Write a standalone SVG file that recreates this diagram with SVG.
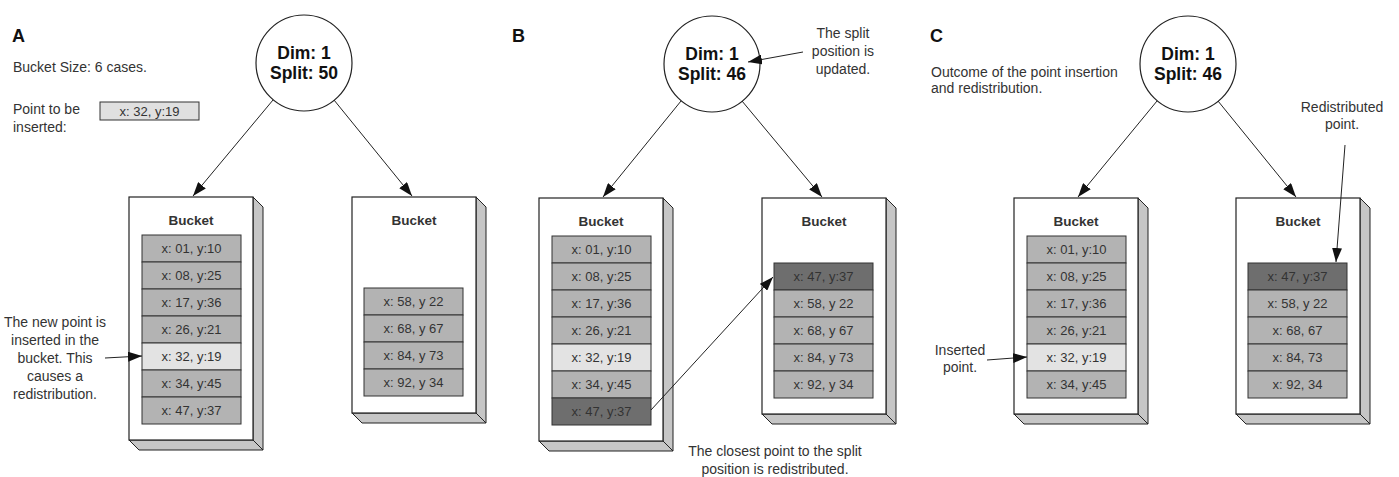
<svg xmlns="http://www.w3.org/2000/svg" width="1399" height="477" viewBox="0 0 1399 477">
<defs>
<style>
.lbl{font-family:"Liberation Sans",Arial,sans-serif;font-size:14px;fill:#333}
.pan{font-family:"Liberation Sans",Arial,sans-serif;font-size:18px;font-weight:bold;fill:#111}
.ctx{font-family:"Liberation Sans",Arial,sans-serif;font-size:17.5px;font-weight:bold;fill:#111;text-anchor:middle}
.bt{font-family:"Liberation Sans",Arial,sans-serif;font-size:13.5px;font-weight:bold;fill:#333;text-anchor:middle}
.rt{font-family:"Liberation Sans",Arial,sans-serif;font-size:13px;fill:#333;text-anchor:middle}
.mid{text-anchor:middle}
.node{fill:#fff;stroke:#222;stroke-width:1.2}
.side{fill:#c6c6c6;stroke:#222;stroke-width:1}
.outer{fill:#fff;stroke:#222;stroke-width:1.2}
.row{fill:#b3b3b3;stroke:#333;stroke-width:1}
.light{fill:#e3e3e3;stroke:#333;stroke-width:1}
.dark{fill:#6e6e6e;stroke:#333;stroke-width:1}
.con{stroke:#222;stroke-width:1;fill:none;marker-end:url(#ah)}
</style>
<marker id="ah" markerUnits="userSpaceOnUse" markerWidth="15" markerHeight="10" refX="14" refY="5" orient="auto">
<path d="M0,0 L14,5 L0,10 Z" fill="#111"/>
</marker>
</defs>
<rect width="1399" height="477" fill="#fff"/>

<!-- Panel A -->
<g id="panelA-labels">
<text class="pan" x="12" y="42">A</text>
<text class="lbl" x="13" y="72">Bucket Size: 6 cases.</text>
<text class="lbl" x="13" y="114">Point to be</text>
<text class="lbl" x="13" y="132">inserted:</text>
<text class="lbl mid" x="55" y="327">The new point is</text>
<text class="lbl mid" x="55" y="345">inserted in the</text>
<text class="lbl mid" x="55" y="363">bucket. This</text>
<text class="lbl mid" x="55" y="381">causes a</text>
<text class="lbl mid" x="55" y="399">redistribution.</text>
</g>
<g id="pointA">
<rect x="100" y="102" width="99" height="18" fill="#e0e0e0" stroke="#333" stroke-width="1"/>
<text class="rt" x="149.5" y="115.5">x: 32, y:19</text>
</g>
<g id="nodeA">
<circle class="node" cx="304" cy="63" r="48"/>
<text class="ctx" x="304" y="59">Dim: 1</text>
<text class="ctx" x="304" y="79">Split: 50</text>
</g>
<g id="bucketA1" transform="translate(129,197)">
<polygon class="side" points="124,0 134,10 134,253 124,243"/>
<polygon class="side" points="0,243 10,253 134,253 124,243"/>
<rect class="outer" x="0" y="0" width="124" height="243"/>
<text class="bt" x="62" y="28">Bucket</text>
<rect class="row" x="13" y="38" width="99" height="27"/><text class="rt" x="62.5" y="56">x: 01, y:10</text>
<rect class="row" x="13" y="65" width="99" height="27"/><text class="rt" x="62.5" y="83">x: 08, y:25</text>
<rect class="row" x="13" y="92" width="99" height="27"/><text class="rt" x="62.5" y="110">x: 17, y:36</text>
<rect class="row" x="13" y="119" width="99" height="27"/><text class="rt" x="62.5" y="137">x: 26, y:21</text>
<rect class="light" x="13" y="146" width="99" height="27"/><text class="rt" x="62.5" y="164">x: 32, y:19</text>
<rect class="row" x="13" y="173" width="99" height="27"/><text class="rt" x="62.5" y="191">x: 34, y:45</text>
<rect class="row" x="13" y="200" width="99" height="27"/><text class="rt" x="62.5" y="218">x: 47, y:37</text>
</g>
<g id="bucketA2" transform="translate(352,197)">
<polygon class="side" points="124,0 134,10 134,226 124,216"/>
<polygon class="side" points="0,216 10,226 134,226 124,216"/>
<rect class="outer" x="0" y="0" width="124" height="216"/>
<text class="bt" x="62" y="28">Bucket</text>
<rect class="row" x="12" y="91" width="99" height="27"/><text class="rt" x="61.5" y="109">x: 58, y 22</text>
<rect class="row" x="12" y="118" width="99" height="27"/><text class="rt" x="61.5" y="136">x: 68, y 67</text>
<rect class="row" x="12" y="145" width="99" height="27"/><text class="rt" x="61.5" y="163">x: 84, y 73</text>
<rect class="row" x="12" y="172" width="99" height="27"/><text class="rt" x="61.5" y="190">x: 92, y 34</text>
</g>

<!-- Panel B -->
<g id="panelB-labels">
<text class="pan" x="512" y="42">B</text>
<text class="lbl mid" x="843" y="38">The split</text>
<text class="lbl mid" x="843" y="56">position is</text>
<text class="lbl mid" x="843" y="74">updated.</text>
<text class="lbl mid" x="775" y="456">The closest point to the split</text>
<text class="lbl mid" x="775" y="474">position is redistributed.</text>
</g>
<g id="nodeB">
<circle class="node" cx="712" cy="64" r="48"/>
<text class="ctx" x="712" y="60">Dim: 1</text>
<text class="ctx" x="712" y="80">Split: 46</text>
</g>
<g id="bucketB1" transform="translate(539,198)">
<polygon class="side" points="124,0 134,10 134,253 124,243"/>
<polygon class="side" points="0,243 10,253 134,253 124,243"/>
<rect class="outer" x="0" y="0" width="124" height="243"/>
<text class="bt" x="62" y="28">Bucket</text>
<rect class="row" x="13" y="38" width="99" height="27"/><text class="rt" x="62.5" y="56">x: 01, y:10</text>
<rect class="row" x="13" y="65" width="99" height="27"/><text class="rt" x="62.5" y="83">x: 08, y:25</text>
<rect class="row" x="13" y="92" width="99" height="27"/><text class="rt" x="62.5" y="110">x: 17, y:36</text>
<rect class="row" x="13" y="119" width="99" height="27"/><text class="rt" x="62.5" y="137">x: 26, y:21</text>
<rect class="light" x="13" y="146" width="99" height="27"/><text class="rt" x="62.5" y="164">x: 32, y:19</text>
<rect class="row" x="13" y="173" width="99" height="27"/><text class="rt" x="62.5" y="191">x: 34, y:45</text>
<rect class="dark" x="13" y="200" width="99" height="27"/><text class="rt" x="62.5" y="218">x: 47, y:37</text>
</g>
<g id="bucketB2" transform="translate(762,198)">
<polygon class="side" points="124,0 134,10 134,226 124,216"/>
<polygon class="side" points="0,216 10,226 134,226 124,216"/>
<rect class="outer" x="0" y="0" width="124" height="216"/>
<text class="bt" x="62" y="28">Bucket</text>
<rect class="dark" x="12" y="65" width="99" height="27"/><text class="rt" x="61.5" y="83">x: 47, y:37</text>
<rect class="row" x="12" y="92" width="99" height="27"/><text class="rt" x="61.5" y="110">x: 58, y 22</text>
<rect class="row" x="12" y="119" width="99" height="27"/><text class="rt" x="61.5" y="137">x: 68, y 67</text>
<rect class="row" x="12" y="146" width="99" height="27"/><text class="rt" x="61.5" y="164">x: 84, y 73</text>
<rect class="row" x="12" y="173" width="99" height="27"/><text class="rt" x="61.5" y="191">x: 92, y 34</text>
</g>

<!-- Panel C -->
<g id="panelC-labels">
<text class="pan" x="930" y="42">C</text>
<text class="lbl" x="931" y="77">Outcome of the point insertion</text>
<text class="lbl" x="931" y="93">and redistribution.</text>
<text class="lbl mid" x="960" y="355">Inserted</text>
<text class="lbl mid" x="960" y="372">point.</text>
<text class="lbl mid" x="1342" y="112">Redistributed</text>
<text class="lbl mid" x="1342" y="129">point.</text>
</g>
<g id="nodeC">
<circle class="node" cx="1188" cy="64" r="48"/>
<text class="ctx" x="1188" y="60">Dim: 1</text>
<text class="ctx" x="1188" y="80">Split: 46</text>
</g>
<g id="bucketC1" transform="translate(1014,198)">
<polygon class="side" points="124,0 134,10 134,226 124,216"/>
<polygon class="side" points="0,216 10,226 134,226 124,216"/>
<rect class="outer" x="0" y="0" width="124" height="216"/>
<text class="bt" x="62" y="28">Bucket</text>
<rect class="row" x="13" y="38" width="99" height="27"/><text class="rt" x="62.5" y="56">x: 01, y:10</text>
<rect class="row" x="13" y="65" width="99" height="27"/><text class="rt" x="62.5" y="83">x: 08, y:25</text>
<rect class="row" x="13" y="92" width="99" height="27"/><text class="rt" x="62.5" y="110">x: 17, y:36</text>
<rect class="row" x="13" y="119" width="99" height="27"/><text class="rt" x="62.5" y="137">x: 26, y:21</text>
<rect class="light" x="13" y="146" width="99" height="27"/><text class="rt" x="62.5" y="164">x: 32, y:19</text>
<rect class="row" x="13" y="173" width="99" height="27"/><text class="rt" x="62.5" y="191">x: 34, y:45</text>
</g>
<g id="bucketC2" transform="translate(1236,198)">
<polygon class="side" points="124,0 134,10 134,226 124,216"/>
<polygon class="side" points="0,216 10,226 134,226 124,216"/>
<rect class="outer" x="0" y="0" width="124" height="216"/>
<text class="bt" x="62" y="28">Bucket</text>
<rect class="dark" x="12" y="65" width="99" height="27"/><text class="rt" x="61.5" y="83">x: 47, y:37</text>
<rect class="row" x="12" y="92" width="99" height="27"/><text class="rt" x="61.5" y="110">x: 58, y 22</text>
<rect class="row" x="12" y="119" width="99" height="27"/><text class="rt" x="61.5" y="137">x: 68, 67</text>
<rect class="row" x="12" y="146" width="99" height="27"/><text class="rt" x="61.5" y="164">x: 84, 73</text>
<rect class="row" x="12" y="173" width="99" height="27"/><text class="rt" x="61.5" y="191">x: 92, 34</text>
</g>

<g id="connectors">
<line class="con" x1="273" y1="100" x2="193" y2="196"/>
<line class="con" x1="334" y1="100" x2="412" y2="196"/>
<line class="con" x1="105" y1="358" x2="142" y2="356"/>
<line class="con" x1="681" y1="101" x2="603" y2="197"/>
<line class="con" x1="742" y1="101" x2="822" y2="197"/>
<line class="con" x1="803" y1="52" x2="748" y2="62"/>
<line class="con" x1="651" y1="410" x2="773" y2="277"/>
<line class="con" x1="1157" y1="101" x2="1078" y2="197"/>
<line class="con" x1="1218" y1="101" x2="1296" y2="197"/>
<line class="con" x1="987" y1="360" x2="1027" y2="357"/>
<line class="con" x1="1345" y1="145" x2="1336" y2="262"/>
</g>
</svg>
